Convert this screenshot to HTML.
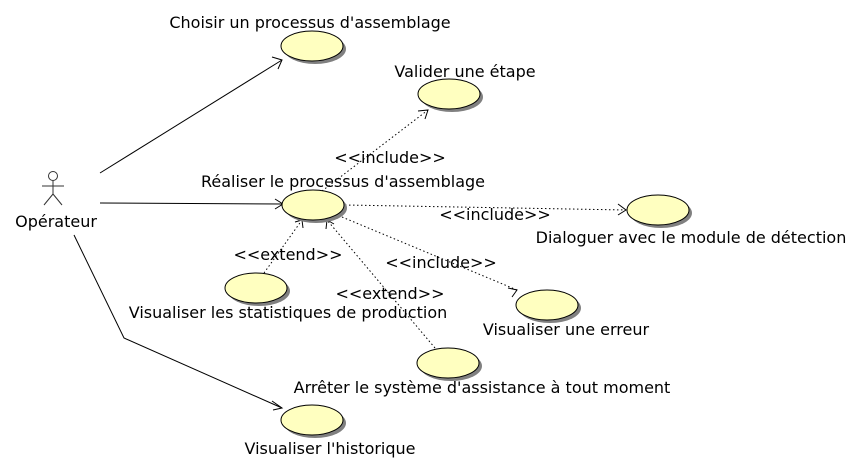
<!DOCTYPE html>
<html><head><meta charset="utf-8"><style>
html,body{margin:0;padding:0;background:#fff;width:857px;height:469px;overflow:hidden}
text{font-family:"DejaVu Sans","Liberation Sans",sans-serif;font-size:16px;fill:#000}
</style></head><body>
<svg width="857" height="469" viewBox="0 0 857 469" xmlns="http://www.w3.org/2000/svg">
<defs>
<g id="uc"><ellipse cx="3" cy="3" rx="31" ry="15" fill="#808080"/><ellipse cx="0" cy="0" rx="31" ry="15" fill="#ffffc0" stroke="#000" stroke-width="1"/></g>
</defs>
<g stroke="#000" fill="none" stroke-width="1">
<circle cx="53" cy="176" r="4.5" stroke="#333"/>
<line x1="53" y1="181" x2="53" y2="194" stroke="#333"/>
<line x1="42" y1="186" x2="64" y2="186" stroke="#333"/>
<line x1="53" y1="194" x2="44" y2="205" stroke="#333"/>
<line x1="53" y1="194" x2="62" y2="205" stroke="#333"/>
<line x1="100" y1="173" x2="282" y2="60"/>
<polyline points="272,57 282,60 278,69"/>
<line x1="100" y1="203" x2="283" y2="204"/>
<polyline points="275,199 283,204 275,209"/>
<polyline points="74,235 124,338 282,408"/>
<polyline points="272,401 282,408 273,410"/>
<line x1="322" y1="191" x2="428" y2="110" stroke-dasharray="1.5,2.5"/>
<polyline points="418,111 428,110 425,119"/>
<line x1="345" y1="205" x2="626" y2="210" stroke-dasharray="1.5,2.5"/>
<polyline points="618,204 626,210 618,215"/>
<line x1="342" y1="217" x2="517" y2="290" stroke-dasharray="1.5,2.5"/>
<polyline points="508,288 517,290 512,297"/>
<line x1="264" y1="273" x2="302" y2="220" stroke-dasharray="1.5,2.5"/>
<polyline points="295,222 302,220 303,228"/>
<line x1="435" y1="348" x2="327" y2="220" stroke-dasharray="1.5,2.5"/>
<polyline points="326,229 327,220 334,224"/>
</g>
<use href="#uc" x="312" y="46"/>
<use href="#uc" x="449" y="94"/>
<use href="#uc" x="313" y="205"/>
<use href="#uc" x="658" y="210"/>
<use href="#uc" x="547" y="305"/>
<use href="#uc" x="256" y="288"/>
<use href="#uc" x="448" y="363"/>
<use href="#uc" x="312" y="420"/>
<g text-anchor="middle">
<text x="56" y="227">Opérateur</text>
<text x="310" y="28">Choisir un processus d'assemblage</text>
<text x="465" y="77">Valider une étape</text>
<text x="343" y="187">Réaliser le processus d'assemblage</text>
<text x="691" y="243">Dialoguer avec le module de détection</text>
<text x="566" y="335">Visualiser une erreur</text>
<text x="288" y="318">Visualiser les statistiques de production</text>
<text x="482" y="393">Arrêter le système d'assistance à tout moment</text>
<text x="330" y="454">Visualiser l'historique</text>
<text x="390" y="163">&lt;&lt;include&gt;&gt;</text>
<text x="495" y="220">&lt;&lt;include&gt;&gt;</text>
<text x="441" y="268">&lt;&lt;include&gt;&gt;</text>
<text x="288" y="260">&lt;&lt;extend&gt;&gt;</text>
<text x="390" y="299">&lt;&lt;extend&gt;&gt;</text>
</g>
</svg>
</body></html>
